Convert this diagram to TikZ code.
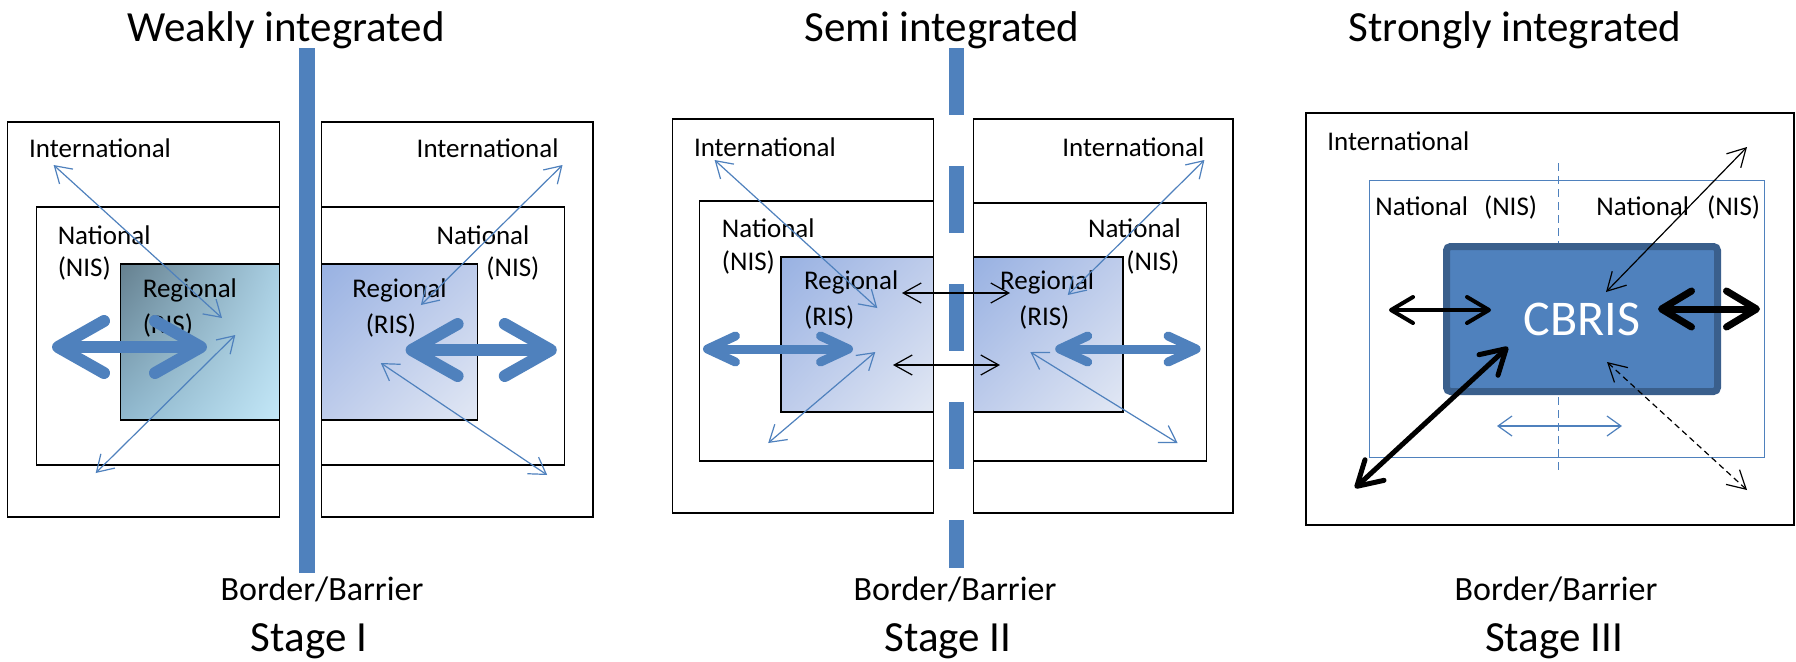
\documentclass[tikz,border=0pt]{standalone}
\usepackage{fontspec}
\setmainfont{Carlito}
\usetikzlibrary{arrows.meta,shadings}
\definecolor{risblue}{HTML}{4F81BD}
\definecolor{risedge}{HTML}{3A5F8C}
\definecolor{slateUL}{RGB}{101,128,143}
\definecolor{slateUR}{RGB}{169,207,227}
\definecolor{slateLL}{RGB}{144,185,207}
\definecolor{slateLR}{RGB}{195,231,247}
\definecolor{paleUL}{RGB}{152,177,226}
\definecolor{paleMid}{RGB}{190,204,235}
\definecolor{paleLR}{RGB}{226,232,244}
\begin{document}
\begin{tikzpicture}[x=0.5pt,y=-0.5pt,
  box/.style={black,line width=0.7pt},
  lbl/.style={inner sep=0pt,anchor=west,font=\fontsize{13.5}{15}\selectfont},
  ttl/.style={inner sep=0pt,font=\fontsize{21.5}{24}\selectfont},
  bdr/.style={inner sep=0pt,font=\fontsize{17}{19}\selectfont},
  slate/.style={upper left=slateUL,upper right=slateUR,lower left=slateLL,lower right=slateLR},
  pale/.style={upper left=paleUL,upper right=paleMid,lower left=paleMid,lower right=paleLR},
  thinarr/.style={risblue,line width=0.6pt,{Straight Barb[length=8pt,width=10pt]}-{Straight Barb[length=8pt,width=10pt]}},
  fatarr/.style={risblue,line width=6pt,{Straight Barb[length=23pt,width=26pt,round]}-{Straight Barb[length=23pt,width=26pt,round]}},
  midarr/.style={risblue,line width=4.5pt,{Straight Barb[length=14pt,width=13pt,round]}-{Straight Barb[length=14pt,width=13pt,round]}},
  blkarr/.style={black,line width=0.6pt,{Straight Barb[length=9pt,width=10pt]}-{Straight Barb[length=9pt,width=10pt]}}]
\useasboundingbox (0,0) rectangle (1796,661);
\fill [white] (0,0) rectangle (1796,661);
% stage I
\draw [box] (7.7,122) rectangle (279.3,517);
\draw [box] (36.4,207) rectangle (279.3,465);
\shade [slate] (120.5,264) rectangle (279.3,420);
\draw [box] (120.5,264) rectangle (279.3,420);
\draw [box] (321.4,122) rectangle (593,517);
\draw [box] (321.4,207) rectangle (564.4,465);
\shade [pale] (321.4,264) rectangle (477.6,420);
\draw [box] (321.4,264) rectangle (477.6,420);
\fill [risblue] (298.5,48) rectangle (314.5,573);
\node [lbl] (intA) at (28.7,148) {International};
\node [lbl] (natA) at (57.4,235) {National};
\node [lbl] (nisA) at (57.4,268) {(NIS)};
\node [lbl] (regA) at (142.4,290) {Regional};
\node [lbl] (risA) at (142.4,325) {(RIS)};
\node [lbl] (intB) at (416.3,148) {International};
\node [lbl] (natB) at (436.2,235) {National};
\node [lbl] (nisB) at (486,268) {(NIS)};
\node [lbl] (regB) at (352,290) {Regional};
\node [lbl] (risB) at (365.4,325) {(RIS)};
\coordinate (a1) at (53.6,165);
\coordinate (a2) at (222,318);
\coordinate (a3) at (95.7,473);
\coordinate (a4) at (235.3,335);
\coordinate (a5) at (52,347);
\coordinate (a6) at (207,347);
\coordinate (b1) at (562.5,165);
\coordinate (b2) at (420.9,305);
\coordinate (b3) at (380.8,363);
\coordinate (b4) at (547.2,475);
\coordinate (b5) at (405.6,350);
\coordinate (b6) at (556.8,350);
\draw [thinarr] (a1) -- (a2);
\draw [thinarr] (a3) -- (a4);
\draw [fatarr] (a5) -- (a6);
\draw [thinarr] (b1) -- (b2);
\draw [thinarr] (b3) -- (b4);
\draw [fatarr] (b5) -- (b6);
% stage II
\draw [box] (672.5,119) rectangle (933.5,513);
\draw [box] (699.3,201) rectangle (933.5,461);
\shade [pale] (780.8,257) rectangle (933.5,412);
\draw [box] (780.8,257) rectangle (933.5,412);
\draw [box] (973.5,119) rectangle (1233,513);
\draw [box] (973.5,203) rectangle (1206.3,461);
\shade [pale] (973.5,257) rectangle (1122.9,412);
\draw [box] (973.5,257) rectangle (1122.9,412);
\draw [risblue,line width=7.75pt,dash pattern=on 33.5pt off 25.5pt] (956.5,48) -- (956.5,568);
\node [lbl] (intC) at (693.6,147) {International};
\node [lbl] (natC) at (721.5,228) {National};
\node [lbl] (nisC) at (721.5,262) {(NIS)};
\node [lbl] (regC) at (803.8,282) {Regional};
\node [lbl] (risC) at (803.8,317) {(RIS)};
\node [lbl] (intD) at (1062,147) {International};
\node [lbl] (natD) at (1087.7,228) {National};
\node [lbl] (nisD) at (1126,262) {(NIS)};
\node [lbl] (regD) at (999.7,282) {Regional};
\node [lbl] (risD) at (1018.8,317) {(RIS)};
\coordinate (c1) at (714.6,160);
\coordinate (c2) at (877.3,308);
\coordinate (c3) at (768.2,443);
\coordinate (c4) at (875.3,352);
\coordinate (c5) at (703,349);
\coordinate (c6) at (853,349);
\coordinate (k1) at (902,293);
\coordinate (k2) at (1010,293);
\coordinate (k3) at (893,365);
\coordinate (k4) at (1000,365);
\coordinate (d1) at (1204.4,160);
\coordinate (d2) at (1067.8,295);
\coordinate (d3) at (1030.3,352);
\coordinate (d4) at (1177.6,443);
\coordinate (d5) at (1055.2,349);
\coordinate (d6) at (1200.6,349);
\draw [thinarr] (c1) -- (c2);
\draw [thinarr] (c3) -- (c4);
\draw [midarr] (c5) -- (c6);
\draw [blkarr] (k1) -- (k2);
\draw [blkarr] (k3) -- (k4);
\draw [thinarr] (d1) -- (d2);
\draw [thinarr] (d3) -- (d4);
\draw [midarr] (d5) -- (d6);
% stage III
\draw [box] (1306,113) rectangle (1794,525);
\draw [risblue,line width=0.5pt] (1369,180) rectangle (1764,457);
\draw [risblue,line width=0.5pt,dash pattern=on 4pt off 2.5pt] (1558,163) -- (1558,473);
\node [draw=risedge,fill=risblue,line width=3.5pt,rounded corners=2pt,minimum width=135.5pt,minimum height=72.5pt,
  text=white,font=\fontsize{25}{30}\selectfont] (cbris) at (1582,319) {CBRIS};
\node [lbl] (intE) at (1327,141) {International};
\node [lbl] (natE) at (1375,207) {National\hspace{8pt}(NIS)};
\node [lbl] (natF) at (1596,207) {National\hspace{9pt}(NIS)};
\coordinate (e1) at (1389,310);
\coordinate (e2) at (1491,310);
\coordinate (e3) at (1658,309);
\coordinate (e4) at (1760,309);
\coordinate (e5) at (1355,488);
\coordinate (e6) at (1508,347);
\coordinate (e7) at (1747,147);
\coordinate (e8) at (1606,292);
\coordinate (e9) at (1607,362);
\coordinate (e10) at (1747,490);
\coordinate (e11) at (1497,426);
\coordinate (e12) at (1622,426);
\draw [black,line width=2pt,{Straight Barb[length=11pt,width=13pt,round]}-{Straight Barb[length=11pt,width=13pt,round]}] (e1) -- (e2);
\draw [black,line width=3.5pt,{Straight Barb[length=15pt,width=18pt,round]}-{Straight Barb[length=15pt,width=18pt,round]}] (e3) -- (e4);
\draw [black,line width=2.5pt,{Straight Barb[length=12pt,width=14pt,round]}-{Straight Barb[length=12pt,width=14pt,round]}] (e5) -- (e6);
\draw [blkarr] (e7) -- (e8);
\draw [blkarr,densely dashed] (e9) -- (e10);
\draw [risblue,line width=0.6pt,{Straight Barb[length=7pt,width=10pt]}-{Straight Barb[length=7pt,width=10pt]}] (e11) -- (e12);
% titles
\node [ttl] (ttlA) at (286,30) {Weakly integrated};
\node [ttl] (ttlB) at (942,30) {Semi integrated};
\node [ttl] (ttlC) at (1515,30) {Strongly integrated};
\node [bdr] (bdrA) at (322,589) {Border/Barrier};
\node [bdr] (bdrB) at (955,589) {Border/Barrier};
\node [bdr] (bdrC) at (1556,589) {Border/Barrier};
\node [ttl] (stgA) at (309,641) {Stage I};
\node [ttl] (stgB) at (948,641) {Stage II};
\node [ttl] (stgC) at (1554,641) {Stage III};
\end{tikzpicture}
\end{document}
